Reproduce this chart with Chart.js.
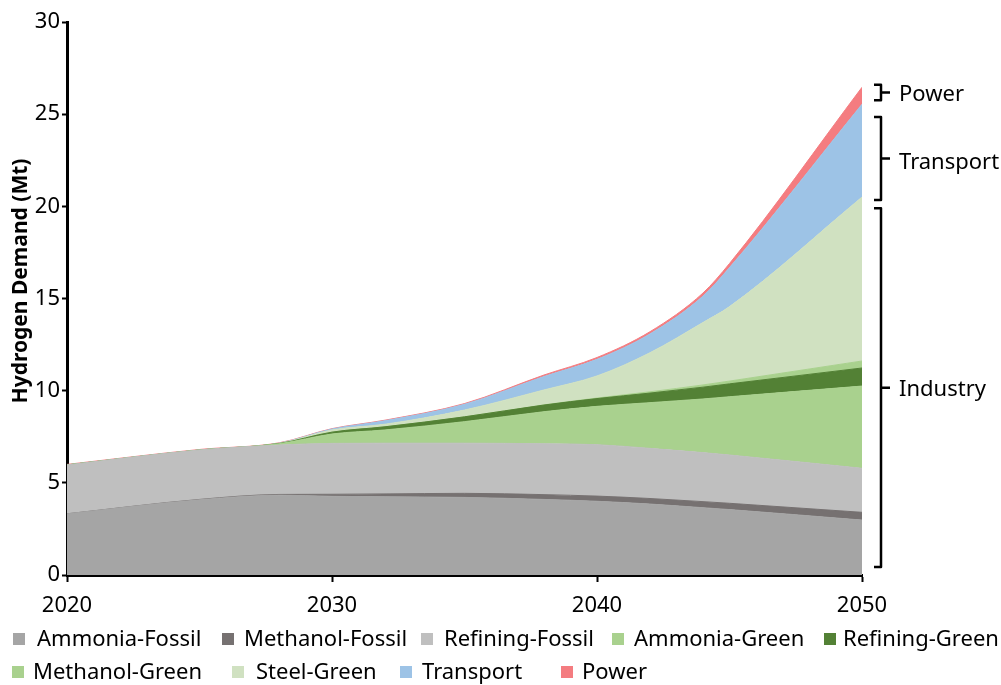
<!DOCTYPE html>
<html>
<head>
<meta charset="utf-8">
<title>Hydrogen Demand</title>
<script src="https://cdn.jsdelivr.net/npm/chart.js@4.4.1/dist/chart.umd.min.js"></script>
<style>
  body { margin: 0; background: #fff; }
</style>
</head>
<body>
<canvas id="demandChart" width="1001" height="685"></canvas>
<script>
// values, Mt per series (not cumulative)
const years = [2020, 2025, 2028, 2030, 2032, 2035, 2038, 2040, 2042, 2044, 2045, 2050];
const ammoniaFossil  = [3.32, 4.08, 4.33, 4.27, 4.24, 4.21, 4.10, 4.00, 3.85, 3.65, 3.55, 2.98];
const methanolFossil = [0.00, 0.02, 0.04, 0.11, 0.16, 0.22, 0.26, 0.28, 0.30, 0.33, 0.34, 0.42];
const refiningFossil = [2.65, 2.68, 2.68, 2.76, 2.75, 2.72, 2.76, 2.79, 2.72, 2.66, 2.62, 2.39];
const ammoniaGreen   = [0.00, 0.00, 0.07, 0.51, 0.72, 1.17, 1.74, 2.08, 2.48, 2.91, 3.16, 4.46];
const refiningGreen  = [0.00, 0.00, 0.01, 0.10, 0.17, 0.26, 0.36, 0.42, 0.52, 0.64, 0.70, 0.98];
const methanolGreen  = [0.00, 0.00, 0.00, 0.00, 0.00, 0.00, 0.01, 0.03, 0.07, 0.12, 0.15, 0.38];
const steelGreen     = [0.00, 0.00, 0.01, 0.12, 0.14, 0.37, 0.81, 1.20, 2.12, 3.39, 4.04, 8.89];
const transport      = [0.00, 0.00, 0.01, 0.05, 0.19, 0.31, 0.73, 0.90, 1.02, 1.43, 2.12, 5.04];
const power          = [0.03, 0.03, 0.02, 0.02, 0.03, 0.04, 0.08, 0.10, 0.12, 0.17, 0.22, 0.92];

const seriesNames = ['Ammonia-Fossil', 'Methanol-Fossil', 'Refining-Fossil', 'Ammonia-Green',
  'Refining-Green', 'Methanol-Green', 'Steel-Green', 'Transport', 'Power'];
const seriesValues = [ammoniaFossil, methanolFossil, refiningFossil, ammoniaGreen,
  refiningGreen, methanolGreen, steelGreen, transport, power];
const seriesColors = ['#a5a5a5', '#767171', '#bfbfbf', '#a9d18e',
  '#538135', '#a9d18e', '#d0e1c1', '#9dc3e6', '#f47c80'];

// sector brackets on the right, in Mt
const bracketLabels = ['Industry', 'Transport', 'Power'];
const bracketFrom = [0.43, 20.35, 25.75];
const bracketTo = [19.9, 24.85, 26.6];

const FONT = '"Noto Sans", "DejaVu Sans", sans-serif';

const datasets = seriesNames.map((name, i) => ({
  label: name,
  data: years.map((yr, j) => ({ x: yr, y: seriesValues[i][j] })),
  backgroundColor: seriesColors[i],
  borderColor: seriesColors[i],
  borderWidth: 1,
  pointRadius: 0,
  cubicInterpolationMode: 'monotone',
  fill: i === 0 ? 'origin' : '-1'
}));

// legend placement (row, square left, text left)
const legendSpots = [
  [0, 13, 37], [0, 222, 244], [0, 421, 444], [0, 612, 634], [0, 824, 843],
  [1, 12, 33], [1, 232, 256], [1, 400, 422], [1, 561, 582]
];

const extras = {
  id: 'extras',
  afterDraw(chart) {
    const ctx = chart.ctx;
    const area = chart.chartArea;
    const yScale = chart.scales.y;
    ctx.save();

    // axis title
    ctx.save();
    ctx.translate(21, 281);
    ctx.rotate(-Math.PI / 2);
    ctx.font = 'bold 21px ' + FONT;
    ctx.fillStyle = '#000';
    ctx.textAlign = 'center';
    ctx.textBaseline = 'middle';
    ctx.fillText('Hydrogen Demand (Mt)', 0, 0);
    ctx.restore();

    // brackets
    ctx.strokeStyle = '#000';
    ctx.lineWidth = 2.5;
    ctx.lineJoin = 'round';
    ctx.font = '22px ' + FONT;
    ctx.fillStyle = '#000';
    ctx.textAlign = 'left';
    ctx.textBaseline = 'middle';
    const bx = area.right + 19;
    bracketLabels.forEach((lab, i) => {
      const top = yScale.getPixelForValue(bracketTo[i]);
      const bot = yScale.getPixelForValue(bracketFrom[i]);
      const mid = (top + bot) / 2;
      ctx.beginPath();
      ctx.moveTo(bx - 7, top);
      ctx.lineTo(bx, top);
      ctx.lineTo(bx, bot);
      ctx.lineTo(bx - 7, bot);
      ctx.moveTo(bx, mid);
      ctx.lineTo(bx + 9, mid);
      ctx.stroke();
      ctx.fillText(lab, area.right + 37, mid + (lab === 'Transport' ? 4 : 2));
    });

    // legend
    ctx.font = '22px ' + FONT;
    legendSpots.forEach((spot, i) => {
      const cy = spot[0] === 0 ? 639 : 672;
      ctx.fillStyle = seriesColors[i];
      ctx.fillRect(spot[1], cy - 6, 12, 12);
      ctx.fillStyle = '#000';
      ctx.fillText(seriesNames[i], spot[2], cy + 1);
    });
    ctx.restore();
  }
};

new Chart(document.getElementById('demandChart'), {
  type: 'line',
  data: { datasets: datasets },
  plugins: [extras],
  options: {
    responsive: false,
    animation: false,
    layout: { padding: { left: 0, top: 22, right: 139, bottom: 70 } },
    plugins: {
      legend: { display: false },
      tooltip: { enabled: false }
    },
    scales: {
      x: {
        type: 'linear',
        min: 2020,
        max: 2050,
        afterFit: s => { s.height = 40; },
        border: { display: true, color: '#000', width: 3 },
        grid: { drawOnChartArea: false, tickLength: 7, tickColor: '#000', tickWidth: 2 },
        ticks: {
          stepSize: 10,
          color: '#000',
          padding: 11,
          font: { family: FONT, size: 22 },
          callback: v => String(v)
        }
      },
      y: {
        stacked: true,
        min: 0,
        max: 30,
        afterFit: s => { s.width = 67; },
        border: { display: true, color: '#000', width: 3 },
        grid: { drawOnChartArea: false, tickLength: 5, tickColor: '#000', tickWidth: 2 },
        ticks: {
          stepSize: 5,
          color: '#000',
          padding: 2,
          font: { family: FONT, size: 22 }
        }
      }
    }
  }
});
</script>
</body>
</html>
